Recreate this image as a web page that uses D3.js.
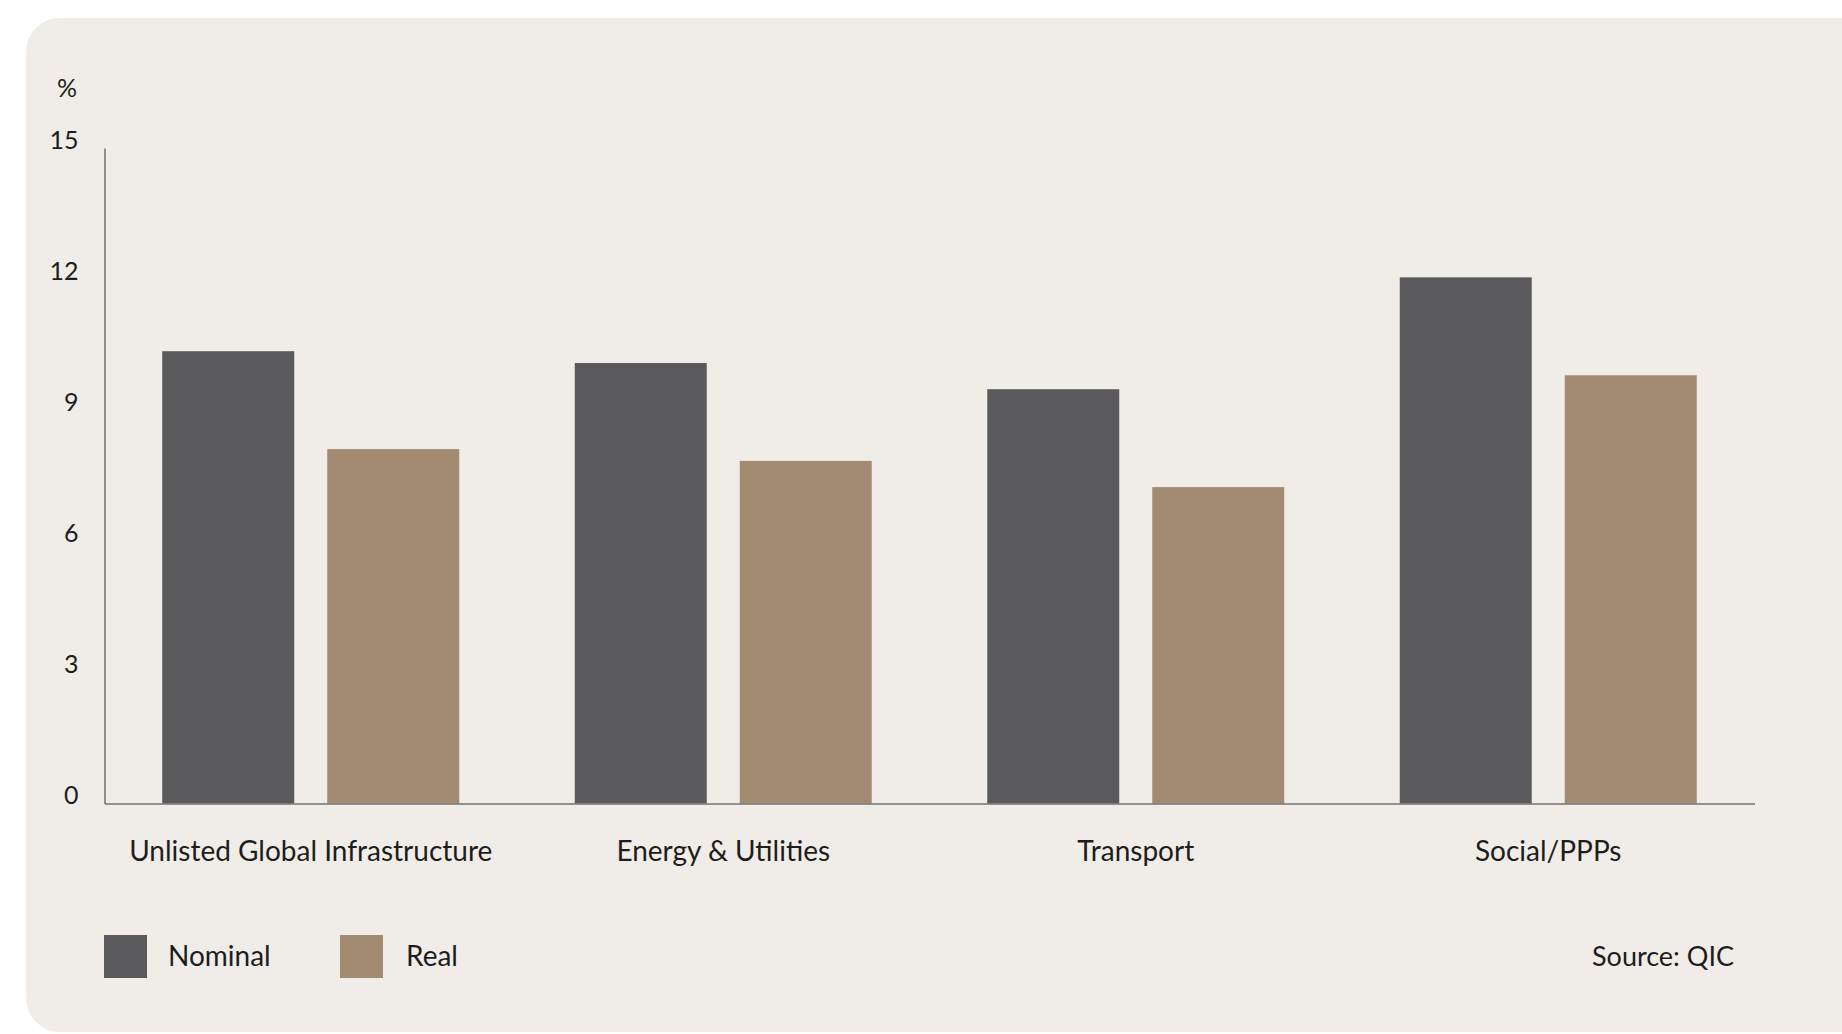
<!DOCTYPE html>
<html>
<head>
<meta charset="utf-8">
<script src="https://cdn.jsdelivr.net/npm/d3@7"></script>
<style>
  html, body { margin: 0; padding: 0; background: #ffffff; }
  svg { display: block; }
  text { font-family: Lato, "Open Sans", sans-serif; fill: #1d1d1b; }
</style>
</head>
<body>
<svg id="chart" width="1842" height="1034"></svg>
<script>
// Infrastructure returns by sector, nominal vs real (%)
const categories = ["Unlisted Global Infrastructure", "Energy & Utilities", "Transport", "Social/PPPs"];
const seriesNames = ["Nominal", "Real"];
const nominalValues = [10.35, 10.08, 9.48, 12.04];
const realValues = [8.11, 7.84, 7.24, 9.80];
const yTicks = [0, 3, 6, 9, 12, 15];
const seriesColors = ["#5a5a5c", "#a38b72"];
const sourceText = "Source: QIC";
const unitLabel = "%";

const rows = categories.map((c, i) => ({
  category: c,
  values: [
    { series: "Nominal", value: nominalValues[i] },
    { series: "Real", value: realValues[i] }
  ]
}));

const svg = d3.select("#chart");

// card background
svg.append("rect")
  .attr("x", 26).attr("y", 18)
  .attr("width", 1900).attr("height", 1014)
  .attr("rx", 34).attr("ry", 34)
  .attr("fill", "#f0ede8");

const plot = { left: 104.5, right: 1754.5, top: 148, bottom: 803.5 };

const y = d3.scaleLinear().domain([0, 15]).range([plot.bottom, plot.top]);

const x0 = d3.scaleBand()
  .domain(categories)
  .range([plot.left, plot.right])
  .paddingInner(0.28)
  .paddingOuter(0.14);

const x1 = d3.scaleBand()
  .domain(seriesNames)
  .range([0, x0.bandwidth()])
  .paddingInner(0.2);

const color = d3.scaleOrdinal().domain(seriesNames).range(seriesColors);

// bars
const groups = svg.append("g").selectAll("g")
  .data(rows).join("g")
  .attr("transform", d => `translate(${x0(d.category)},0)`);

groups.selectAll("rect")
  .data(d => d.values).join("rect")
  .attr("x", d => x1(d.series))
  .attr("y", d => y(d.value))
  .attr("width", x1.bandwidth())
  .attr("height", d => y(0) - y(d.value))
  .attr("fill", d => color(d.series));

// y axis
const yAxis = d3.axisLeft(y).tickValues(yTicks).tickSize(0).tickPadding(26);
const yg = svg.append("g")
  .attr("transform", `translate(${plot.left},0)`)
  .call(yAxis);
yg.select(".domain").attr("stroke", "#707070").attr("stroke-width", 1.5);
yg.selectAll(".tick text")
  .attr("y", -8)
  .style("font-size", "25px")
  .style("font-family", "Lato, sans-serif")
  .attr("fill", "#1d1d1b");

// x axis baseline and category labels
const xAxis = d3.axisBottom(x0).tickSize(0).tickPadding(38);
const xg = svg.append("g")
  .attr("transform", `translate(0,${plot.bottom})`)
  .call(xAxis);
xg.select(".domain").attr("stroke", "#707070").attr("stroke-width", 1.5);
xg.selectAll(".tick text")
  .style("font-size", "28px")
  .style("font-family", "Lato, sans-serif")
  .attr("fill", "#1d1d1b");

// unit label
svg.append("text")
  .attr("x", 67).attr("y", 97)
  .attr("text-anchor", "middle")
  .style("font-size", "25px")
  .text(unitLabel);

// legend
const legendItems = [
  { name: "Nominal", sx: 104, tx: 168 },
  { name: "Real", sx: 340, tx: 406 }
];
const legend = svg.append("g");
legend.selectAll("rect")
  .data(legendItems).join("rect")
  .attr("x", d => d.sx).attr("y", 935)
  .attr("width", 43).attr("height", 43)
  .attr("fill", d => color(d.name));
legend.selectAll("text")
  .data(legendItems).join("text")
  .attr("x", d => d.tx).attr("y", 966)
  .style("font-size", "28px")
  .text(d => d.name);

// source
svg.append("text")
  .attr("x", 1734).attr("y", 966)
  .attr("text-anchor", "end")
  .style("font-size", "27px")
  .text(sourceText);
</script>
</body>
</html>
